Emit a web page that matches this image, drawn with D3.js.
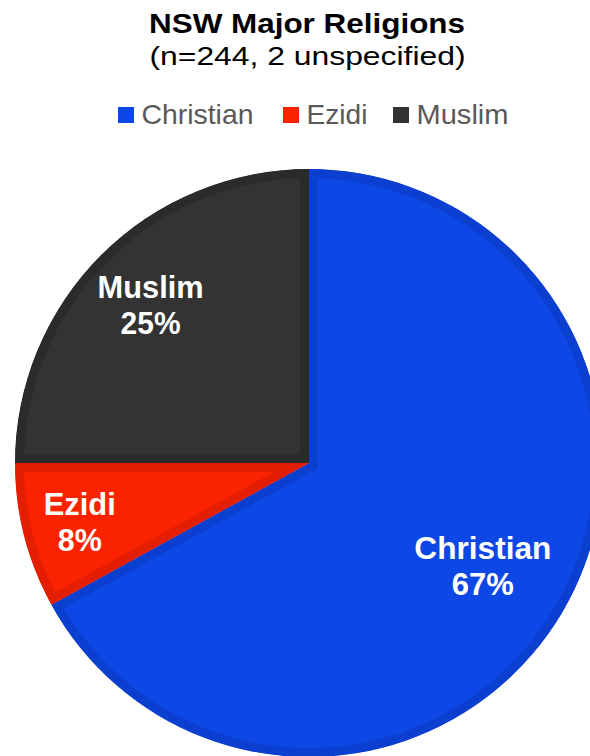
<!DOCTYPE html>
<html>
<head>
<meta charset="utf-8">
<script src="https://cdn.jsdelivr.net/npm/d3@7/dist/d3.min.js"></script>
<style>
  html, body { margin: 0; padding: 0; background: #fff; }
  svg { display: block; font-family: "Liberation Sans", Arial, sans-serif; }
</style>
</head>
<body>
<svg id="chart" width="590" height="756"></svg>
<script>
// Religion breakdown (percent of respondents)
const religions = ["Christian", "Ezidi", "Muslim"];
const shares = [67, 8, 25];

const fills = { Christian: "#0d47e6", Ezidi: "#fb2200", Muslim: "#333333" };
const edges = { Christian: "#0b3fd0", Ezidi: "#e41e00", Muslim: "#2b2b2b" };
// how far out along the slice each label sits (fraction of radius)
const labelReach = { Christian: 0.687, Ezidi: 0.805, Muslim: 0.762 };
// rendered widths of the label lines (name, percent)
const labelWidths = {
  Christian: [137, 62], Ezidi: [72, 44], Muslim: [106, 60]
};

const svg = d3.select("#chart");

// Title block
svg.append("text")
  .attr("x", 307).attr("y", 33)
  .attr("text-anchor", "middle")
  .attr("font-size", 28).attr("font-weight", "bold").attr("fill", "#000")
  .attr("textLength", 316).attr("lengthAdjust", "spacingAndGlyphs")
  .text("NSW Major Religions");
svg.append("text")
  .attr("x", 307.5).attr("y", 65)
  .attr("text-anchor", "middle")
  .attr("font-size", 26.5).attr("fill", "#000")
  .attr("textLength", 316).attr("lengthAdjust", "spacingAndGlyphs")
  .text("(n=244, 2 unspecified)");

// Legend
const legendItems = {
  Christian: { x: 118, w: 112 },
  Ezidi: { x: 283, w: 61 },
  Muslim: { x: 393, w: 92 }
};
const legend = svg.append("g");
religions.forEach(name => {
  const it = legendItems[name];
  const g = legend.append("g").attr("transform", `translate(${it.x},107)`);
  g.append("rect").attr("width", 16).attr("height", 16).attr("fill", fills[name]);
  g.append("text").attr("x", 23.5).attr("y", 17)
    .attr("font-size", 28).attr("fill", "#595959")
    .attr("textLength", it.w).attr("lengthAdjust", "spacingAndGlyphs")
    .text(name);
});

// Pie
const cx = 309, cy = 463, R = 294;
const data = religions.map((name, i) => ({ name, value: shares[i] }));
const pie = d3.pie().value(d => d.value).sort(null);
const arcs = pie(data);
const arc = d3.arc().innerRadius(0).outerRadius(R);

const defs = svg.append("defs");
const pieG = svg.append("g").attr("transform", `translate(${cx},${cy})`);

arcs.forEach((a, i) => {
  const id = "slice-clip-" + i;
  defs.append("clipPath").attr("id", id)
    .append("path").attr("d", arc(a));
  pieG.append("path")
    .attr("d", arc(a))
    .attr("fill", fills[a.data.name])
    .attr("stroke", edges[a.data.name])
    .attr("stroke-width", 18)
    .attr("clip-path", `url(#${id})`);
});

// Slice labels
arcs.forEach(a => {
  const name = a.data.name;
  const r = R * labelReach[name];
  const [lx, ly] = d3.arc().innerRadius(r).outerRadius(r).centroid(a);
  const [w1, w2] = labelWidths[name];
  const t = pieG.append("text")
    .attr("text-anchor", "middle")
    .attr("font-size", 30.5).attr("font-weight", "bold").attr("fill", "#fff");
  t.append("tspan").attr("x", lx).attr("y", ly - 7)
    .attr("textLength", w1).attr("lengthAdjust", "spacingAndGlyphs")
    .text(name);
  t.append("tspan").attr("x", lx).attr("y", ly + 29)
    .attr("textLength", w2).attr("lengthAdjust", "spacingAndGlyphs")
    .text(a.data.value + "%");
});
</script>
</body>
</html>
